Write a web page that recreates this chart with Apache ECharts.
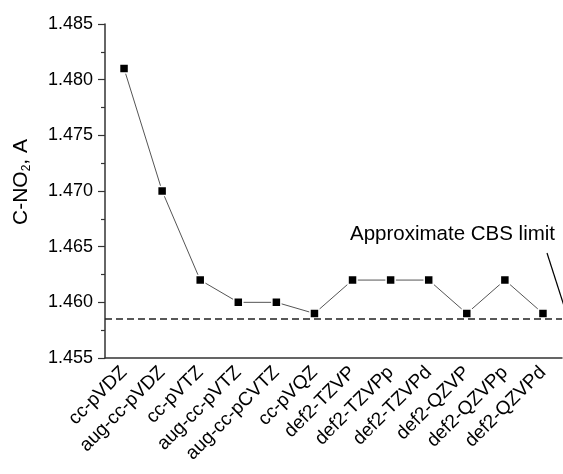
<!DOCTYPE html>
<html><head><meta charset="utf-8">
<script src="https://cdn.jsdelivr.net/npm/echarts@6/dist/echarts.min.js"></script>
<style>html,body{margin:0;padding:0;background:#fff}#c{width:563px;height:474px}</style>
</head><body><div id="c"></div>
<script>
const categories = ['cc-pVDZ','aug-cc-pVDZ','cc-pVTZ','aug-cc-pVTZ','aug-cc-pCVTZ','cc-pVQZ','def2-TZVP','def2-TZVPp','def2-TZVPd','def2-QZVP','def2-QZVPp','def2-QZVPd'];
const bondLength = [1.481,1.470,1.462,1.460,1.460,1.459,1.462,1.462,1.462,1.459,1.462,1.459];
const cbsLimit = 1.4585;
const yTicks = {min:1.455, max:1.485, step:0.005};
const annotationText = 'Approximate CBS limit';

const F = 'Arial, "Liberation Sans", sans-serif';
const chart = echarts.init(document.getElementById('c'), null, {renderer:'canvas'});
chart.setOption({
  animation:false,
  backgroundColor:'#fff',
  grid:{left:105, right:1, top:24, bottom:116, containLabel:false},
  xAxis:{
    type:'category', data:categories, boundaryGap:true,
    axisLine:{lineStyle:{color:'#333', width:1.5}},
    axisTick:{alignWithLabel:true, length:6, lineStyle:{color:'#333', width:1.2}},
    axisLabel:{rotate:45, fontSize:19, color:'#000', fontFamily:F, margin:11.5, interval:0, padding:[36,0,0,0]},
    splitLine:{show:false}
  },
  yAxis:{
    type:'value', min:yTicks.min, max:yTicks.max, interval:yTicks.step,
    name:'{a|C-NO}{s|2}{a|, A}', nameLocation:'middle', nameGap:72,
    nameTextStyle:{padding:[0,0,0,18], rich:{a:{fontSize:21, fontFamily:F, color:'#000'}, s:{fontSize:12, fontFamily:F, color:'#000', verticalAlign:'bottom', padding:[12,0,0,0]}}},
    axisLine:{show:true, lineStyle:{color:'#333', width:1.5}},
    axisTick:{show:true, length:7, lineStyle:{color:'#333', width:1.2}},
    minorTick:{show:true, splitNumber:2, length:4, lineStyle:{color:'#333', width:1.2}},
    axisLabel:{fontSize:18, color:'#000', fontFamily:F, margin:12, formatter:v=>v.toFixed(3)},
    splitLine:{show:false}
  },
  series:[{
    type:'line', data:bondLength,
    symbol:'rect', symbolSize:9,
    lineStyle:{color:'#555', width:1},
    itemStyle:{color:'#000', borderColor:'#fff', borderWidth:1.5},
    markLine:{silent:true, symbol:'none', precision:5, label:{show:false},
      lineStyle:{color:'#222', type:[7,4], width:1.5},
      data:[{yAxis:cbsLimit}]}
  }],
  graphic:[
    {type:'text', left:350, top:224, style:{text:annotationText, fontSize:20.5, fontFamily:F, fill:'#000'}},
    {type:'line', shape:{x1:547, y1:253, x2:566, y2:312}, style:{stroke:'#000', lineWidth:1.2}}
  ]
});
</script></body></html>
